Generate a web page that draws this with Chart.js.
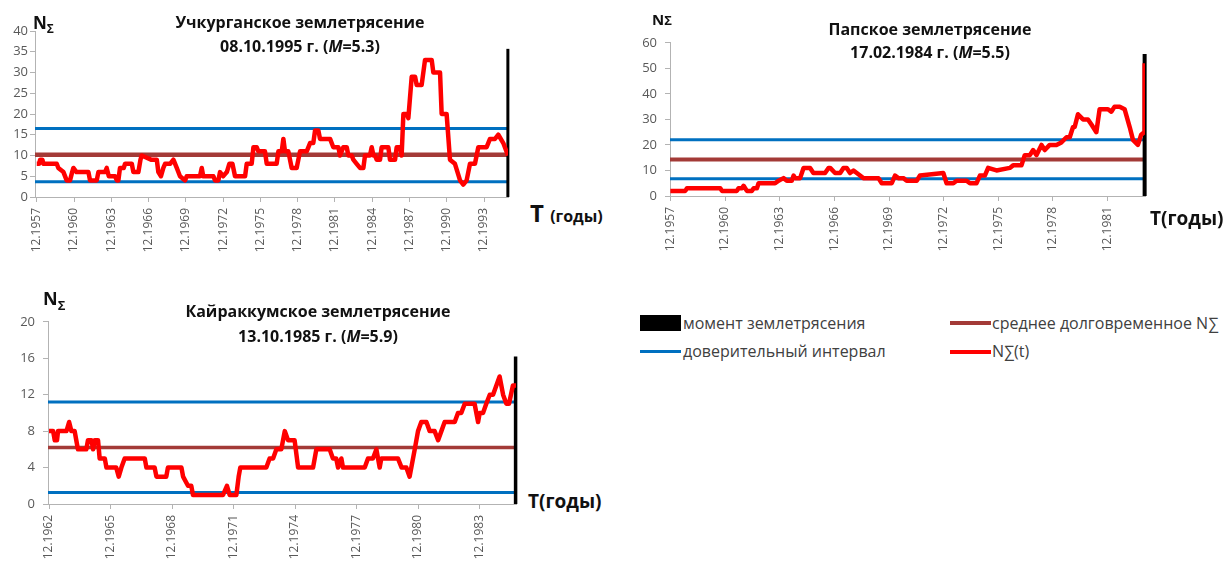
<!DOCTYPE html>
<html lang="ru">
<head>
<meta charset="utf-8">
<title>Землетрясения</title>
<script src="https://cdn.jsdelivr.net/npm/chart.js@4.4.0/dist/chart.umd.min.js"></script>
<style>
  html, body { margin: 0; padding: 0; background: #fff; }
  body { width: 1226px; height: 566px; position: relative; overflow: hidden; font-family: 'Open Sans', sans-serif; }
  canvas { position: absolute; }
  .txt { position: absolute; white-space: nowrap; color: #111; }
  .title { font-weight: bold; font-size: 16px; text-align: center; transform: translateX(-50%); }
  .axlab { font-weight: bold; line-height: 1; }
  .leg { font-size: 16px; color: #404040; line-height: 20px; }
  .sw { position: absolute; }
</style>
</head>
<body>

<canvas id="chart1" width="516" height="236" style="left:0;top:21px"></canvas>
<canvas id="chart2" width="523" height="229" style="left:630px;top:27px"></canvas>
<canvas id="chart3" width="524" height="258" style="left:0;top:306px"></canvas>

<!-- подписи первого графика -->
<div class="txt axlab" style="left:33px;top:14px;font-size:17px">N<sub style="font-size:12px">Σ</sub></div>
<div class="txt title" style="left:300px;top:10px;line-height:24px">Учкурганское землетрясение<br>08.10.1995 г. (<i>M</i>=5.3)</div>
<div class="txt axlab" style="left:530px;top:201px;font-size:24px">T <span style="font-size:16px">(годы)</span></div>

<!-- подписи второго графика -->
<div class="txt axlab" style="left:652px;top:12px;font-size:15px">N<span style="font-size:13px">Σ</span></div>
<div class="txt title" style="left:930px;top:18px;line-height:23px">Папское землетрясение<br>17.02.1984 г. (<i>M</i>=5.5)</div>
<div class="txt axlab" style="left:1150px;top:209px;font-size:19px">T(годы)</div>

<!-- подписи третьего графика -->
<div class="txt axlab" style="left:43px;top:289px;font-size:18px">N<sub style="font-size:13px">Σ</sub></div>
<div class="txt title" style="left:318px;top:299px;line-height:25px">Кайраккумское землетрясение<br>13.10.1985 г. (<i>M</i>=5.9)</div>
<div class="txt axlab" style="left:528px;top:492px;font-size:19px">T(годы)</div>

<!-- легенда -->
<div class="sw" style="left:640px;top:315px;width:41px;height:16px;background:#000"></div>
<div class="txt leg" style="left:683px;top:313px">момент землетрясения</div>
<div class="sw" style="left:640px;top:350px;width:41px;height:3px;background:#0070C0"></div>
<div class="txt leg" style="left:683px;top:341px">доверительный интервал</div>
<div class="sw" style="left:950px;top:321px;width:41px;height:4px;background:#A33A37"></div>
<div class="txt leg" style="left:992px;top:313px">среднее долговременное N∑</div>
<div class="sw" style="left:950px;top:350px;width:41px;height:4px;background:#FF0000"></div>
<div class="txt leg" style="left:992px;top:341px">N∑(t)</div>

<script>
// Учкурганское землетрясение (время в годах, N)
var uchkTickYears = [1957, 1960, 1963, 1966, 1969, 1972, 1975, 1978, 1981, 1984, 1987, 1990, 1993];
var uchkSeries = [
    [1957.92, 8], [1958.12, 8], [1958.19, 9], [1958.37, 9], [1958.46, 8], [1959.53, 8], [1959.66, 7],
    [1960.07, 6], [1960.33, 4], [1960.60, 4], [1960.77, 6], [1960.87, 7], [1961.12, 6], [1962.08, 6],
    [1962.21, 4], [1962.75, 4], [1962.88, 6], [1963.42, 6], [1963.55, 7], [1963.72, 5], [1964.22, 5],
    [1964.37, 4], [1964.49, 4], [1964.62, 7], [1964.92, 7], [1965.03, 8], [1965.57, 8], [1965.70, 6],
    [1966.10, 6], [1966.27, 9], [1966.37, 10], [1967.12, 9], [1967.58, 9], [1967.71, 6], [1967.92, 5],
    [1968.11, 7], [1968.25, 8], [1968.65, 8], [1968.92, 9], [1969.19, 7], [1969.45, 5], [1969.86, 4],
    [1969.99, 5], [1971.06, 5], [1971.20, 7], [1971.32, 5], [1971.47, 5], [1972.14, 5], [1972.27, 4],
    [1972.54, 4], [1972.67, 6], [1972.92, 5], [1973.22, 6], [1973.42, 8], [1973.67, 8], [1973.88, 5],
    [1974.69, 5], [1974.82, 8], [1975.22, 8], [1975.36, 12], [1975.62, 12], [1975.76, 11], [1976.29, 11],
    [1976.43, 8], [1977.23, 8], [1977.37, 11], [1977.64, 11], [1977.77, 14], [1977.90, 11], [1978.17, 11],
    [1978.44, 7], [1978.84, 7], [1979.11, 11], [1979.65, 11], [1979.92, 13], [1980.18, 13], [1980.32, 16],
    [1980.59, 16], [1980.72, 14], [1981.53, 14], [1981.79, 12], [1982.20, 12], [1982.33, 10], [1982.60, 12],
    [1982.87, 12], [1983.00, 10], [1983.27, 10], [1983.40, 9], [1983.67, 8], [1983.94, 7], [1984.21, 7],
    [1984.34, 10], [1984.74, 10], [1984.88, 12], [1985.02, 10], [1985.15, 10], [1985.28, 9], [1985.55, 9],
    [1985.68, 12], [1986.22, 12], [1986.35, 9], [1986.76, 9], [1986.89, 12], [1987.16, 12], [1987.29, 10],
    [1987.43, 20], [1987.70, 20], [1987.83, 19], [1988.10, 29], [1988.37, 29], [1988.50, 27], [1988.90, 27],
    [1989.17, 33], [1989.71, 33], [1989.84, 30], [1990.38, 30], [1990.51, 20], [1990.91, 20], [1991.18, 9],
    [1991.58, 8], [1991.99, 4], [1992.25, 3], [1992.52, 4], [1992.79, 8], [1993.19, 8], [1993.46, 12],
    [1994.13, 12], [1994.40, 14], [1994.80, 14], [1995.07, 15], [1995.47, 13], [1995.85, 10]
];
var uchkMean = 10.2;
var uchkBand = [3.7, 16.5];
var uchkQuake = [1995.84, 35.7];

// Папское землетрясение
var papTickYears = [1957, 1960, 1963, 1966, 1969, 1972, 1975, 1978, 1981];
var papSeries = [
    [1957.92, 2], [1958.74, 2], [1958.83, 3], [1960.66, 3], [1960.75, 2], [1961.57, 2], [1961.66, 3],
    [1961.85, 3], [1961.94, 4], [1962.12, 2], [1962.39, 2], [1962.49, 3], [1962.67, 3], [1962.76, 5],
    [1963.67, 5], [1963.86, 6], [1964.13, 7], [1964.31, 6], [1964.59, 6], [1964.68, 8], [1964.77, 7],
    [1965.04, 7], [1965.23, 11], [1965.59, 11], [1965.77, 9], [1966.41, 9], [1966.60, 11], [1966.69, 11],
    [1966.96, 9], [1967.24, 9], [1967.42, 11], [1967.60, 11], [1967.78, 9], [1967.97, 10], [1968.15, 9],
    [1968.33, 8], [1968.51, 7], [1969.34, 7], [1969.52, 5], [1970.07, 5], [1970.25, 8], [1970.43, 7],
    [1970.71, 7], [1970.89, 6], [1971.44, 6], [1971.62, 8], [1972.90, 9], [1973.08, 5], [1973.45, 5],
    [1973.63, 6], [1974.18, 6], [1974.36, 5], [1974.72, 5], [1974.91, 8], [1975.18, 8], [1975.36, 11],
    [1975.82, 10], [1976.55, 11], [1976.73, 12], [1977.19, 12], [1977.37, 16], [1977.65, 16], [1977.83, 18],
    [1978.01, 16], [1978.29, 20], [1978.47, 18], [1978.74, 20], [1979.11, 20], [1979.38, 21], [1979.66, 23],
    [1979.84, 23], [1980.02, 27], [1980.11, 27], [1980.29, 32], [1980.57, 30], [1980.84, 30], [1981.03, 28],
    [1981.30, 25], [1981.48, 34], [1981.94, 34], [1982.12, 33], [1982.30, 35], [1982.58, 35], [1982.85, 34],
    [1983.13, 27], [1983.31, 22], [1983.58, 20], [1983.76, 24], [1983.93, 25], [1983.95, 52]
];
var papMean = 14.3;
var papBand = [6.8, 22];
var papQuake = [1983.95, 55.6];

// Кайраккумское землетрясение
var kairTickYears = [1962, 1965, 1968, 1971, 1974, 1977, 1980, 1983];
var kairSeries = [
    [1962.92, 8], [1963.12, 8], [1963.20, 7], [1963.31, 7], [1963.36, 8], [1963.77, 8], [1963.90, 9],
    [1964.01, 8], [1964.17, 8], [1964.25, 7], [1964.33, 6], [1964.74, 6], [1964.82, 7], [1964.99, 7],
    [1965.07, 6], [1965.15, 7], [1965.31, 7], [1965.39, 5], [1965.64, 5], [1965.72, 4], [1966.20, 4],
    [1966.32, 3], [1966.45, 4], [1966.61, 5], [1967.59, 5], [1967.67, 4], [1968.07, 4], [1968.16, 3],
    [1968.64, 3], [1968.72, 4], [1969.38, 4], [1969.46, 3], [1969.70, 2], [1969.86, 2], [1969.94, 1],
    [1971.41, 1], [1971.60, 2], [1971.73, 1], [1972.06, 1], [1972.17, 3], [1972.25, 4], [1973.52, 4],
    [1973.68, 5], [1973.85, 5], [1974.01, 6], [1974.25, 6], [1974.42, 8], [1974.58, 7], [1974.90, 7],
    [1975.07, 4], [1975.80, 4], [1975.96, 6], [1976.61, 6], [1976.77, 5], [1976.93, 5], [1977.02, 4],
    [1977.18, 5], [1977.26, 4], [1978.32, 4], [1978.48, 5], [1978.72, 5], [1978.89, 6], [1979.05, 4],
    [1979.13, 5], [1979.94, 5], [1980.12, 4], [1980.35, 4], [1980.51, 3], [1980.76, 6], [1980.92, 8],
    [1981.08, 9], [1981.33, 9], [1981.49, 8], [1981.73, 8], [1981.90, 7], [1982.06, 8], [1982.22, 9],
    [1982.71, 9], [1982.87, 10], [1983.03, 10], [1983.20, 11], [1983.68, 11], [1983.85, 9], [1983.93, 10],
    [1984.09, 10], [1984.25, 11], [1984.42, 12], [1984.58, 12], [1984.90, 14], [1985.07, 12], [1985.23, 11],
    [1985.36, 11], [1985.55, 13], [1985.70, 13]
];
var kairMean = 6.2;
var kairBand = [1.25, 11.2];
var kairQuake = [1985.68, 16.2];

var RED = '#FF0000';
var BLUE = '#0070C0';
var BROWN = '#A33A37';
var AXIS = '#b3b3b3';
var TICK = '#595959';

Chart.defaults.font.family = "'Open Sans', sans-serif";

// Один график: ряд N(t), среднее, доверительный интервал и момент землетрясения
function createChart(canvasId, o) {
    var ctx = document.getElementById(canvasId).getContext('2d');
    var xMin = o.xRange[0], xMax = o.xRange[1];
    new Chart(ctx, {
        type: 'line',
        data: {
            datasets: [
                { data: o.series, borderColor: RED, borderWidth: 4.5, order: 0 },
                { data: [[o.quake[0], 0], [o.quake[0], o.quake[1]]], borderColor: '#000', borderWidth: o.quakeWidth, order: 1, clip: false },
                { data: [[xMin, o.mean], [xMax, o.mean]], borderColor: BROWN, borderWidth: o.meanWidth, order: 2 },
                { data: [[xMin, o.band[0]], [xMax, o.band[0]]], borderColor: BLUE, borderWidth: 3, order: 3 },
                { data: [[xMin, o.band[1]], [xMax, o.band[1]]], borderColor: BLUE, borderWidth: 3, order: 3 }
            ]
        },
        options: {
            responsive: false,
            animation: false,
            events: [],
            devicePixelRatio: 1,
            layout: { padding: { top: 10, right: 8, bottom: 0, left: 0 } },
            elements: {
                point: { radius: 0 },
                line: { tension: 0, borderJoinStyle: 'round', borderCapStyle: 'butt' }
            },
            plugins: {
                legend: { display: false },
                tooltip: { enabled: false }
            },
            scales: {
                x: {
                    type: 'linear',
                    min: xMin,
                    max: xMax,
                    afterBuildTicks: function (scale) {
                        scale.ticks = o.tickYears.map(function (y) { return { value: y + 0.92 }; });
                    },
                    afterFit: function (scale) { scale.height = 60; },
                    grid: { drawOnChartArea: false, drawTicks: true, tickLength: 5, color: AXIS },
                    border: { display: true, color: AXIS, width: 1 },
                    ticks: {
                        autoSkip: false,
                        minRotation: 90,
                        maxRotation: 90,
                        padding: 6,
                        color: TICK,
                        font: { size: 12 },
                        callback: function (v) { return '12.' + Math.round(v - 0.92); }
                    }
                },
                y: {
                    min: 0,
                    max: o.yMax,
                    afterFit: function (scale) { scale.width = o.yWidth; },
                    grid: { drawOnChartArea: false, drawTicks: true, tickLength: 5, color: AXIS },
                    border: { display: true, color: AXIS, width: 1 },
                    ticks: { stepSize: o.yStep, padding: o.yPad, color: TICK, font: { size: 13 } }
                }
            }
        }
    });
}

document.addEventListener('DOMContentLoaded', function () {
    createChart('chart1', {
        series: uchkSeries, mean: uchkMean, band: uchkBand, quake: uchkQuake, tickYears: uchkTickYears,
        xRange: [1957.78, 1995.85], yMax: 40, yStep: 5, yWidth: 35, yPad: 2, quakeWidth: 3, meanWidth: 4.5
    });
    createChart('chart2', {
        series: papSeries, mean: papMean, band: papBand, quake: papQuake, tickYears: papTickYears,
        xRange: [1957.90, 1983.97], yMax: 60, yStep: 10, yWidth: 40, yPad: 8, quakeWidth: 4, meanWidth: 4
    });
    createChart('chart3', {
        series: kairSeries, mean: kairMean, band: kairBand, quake: kairQuake, tickYears: kairTickYears,
        xRange: [1962.87, 1985.70], yMax: 20, yStep: 4, yWidth: 48, yPad: 8, quakeWidth: 3.5, meanWidth: 3.5
    });
});
</script>
</body>
</html>
